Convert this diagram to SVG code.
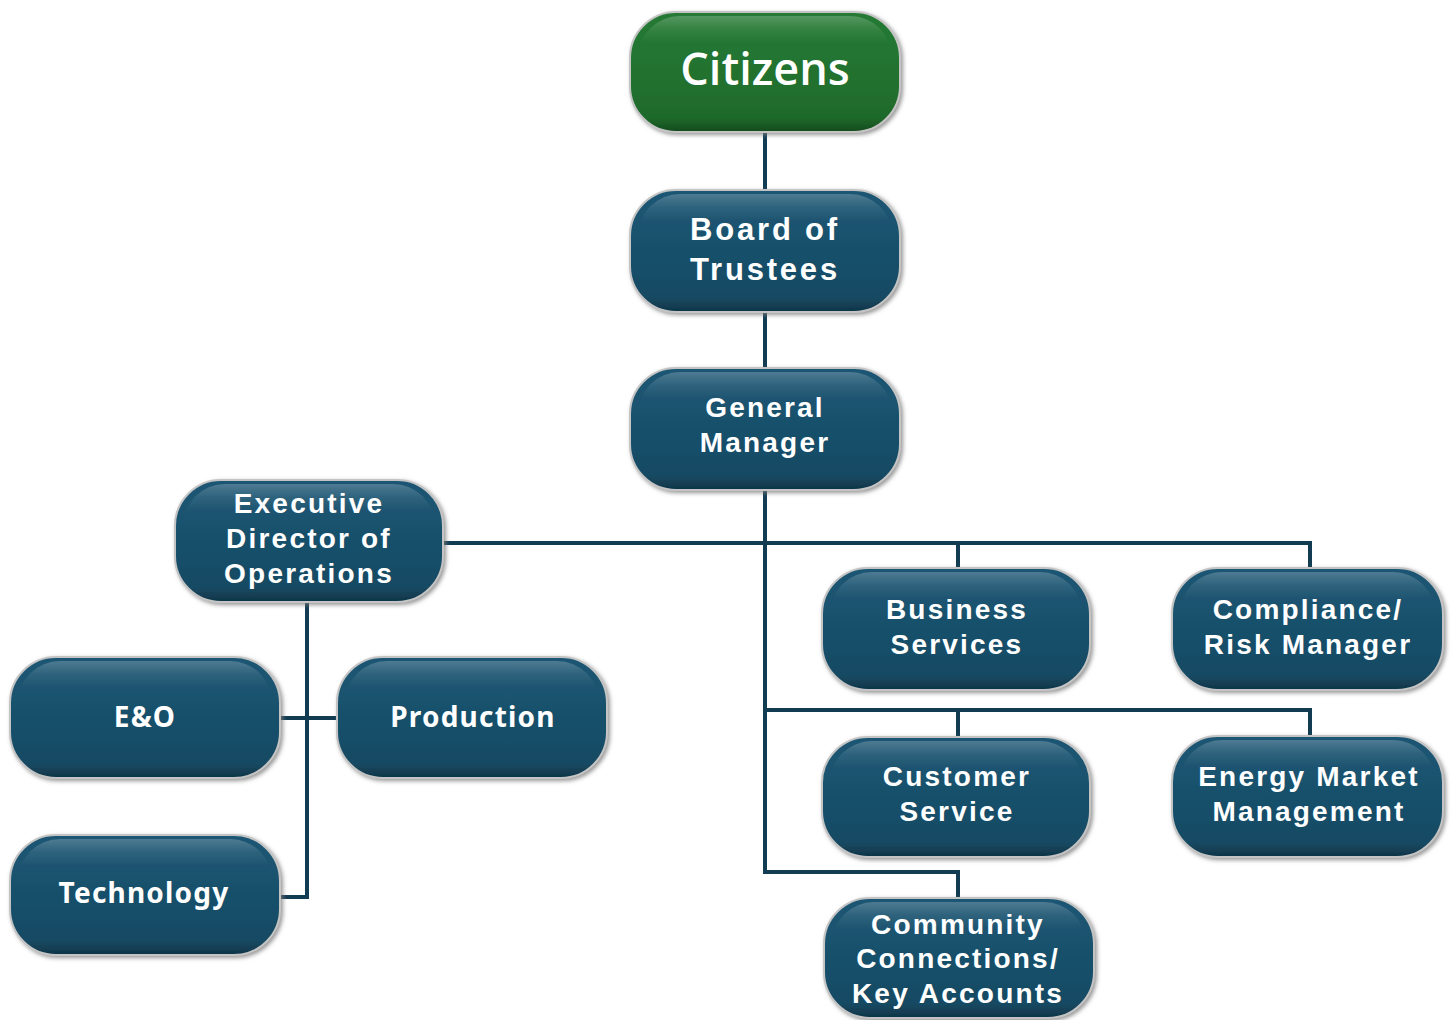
<svg xmlns="http://www.w3.org/2000/svg" width="1452" height="1020" viewBox="0 0 1452 1020">
  <defs>
    <linearGradient id="blueFill" x1="0" y1="0" x2="0" y2="1">
      <stop offset="0" stop-color="#1b5674"/>
      <stop offset="0.5" stop-color="#19506b"/>
      <stop offset="0.88" stop-color="#174a63"/>
      <stop offset="1" stop-color="#0f3446"/>
    </linearGradient>
    <linearGradient id="greenFill" x1="0" y1="0" x2="0" y2="1">
      <stop offset="0" stop-color="#257a34"/>
      <stop offset="0.5" stop-color="#22722f"/>
      <stop offset="0.88" stop-color="#1f6a2c"/>
      <stop offset="1" stop-color="#134a1c"/>
    </linearGradient>
    <linearGradient id="gloss" x1="0" y1="0" x2="0" y2="1">
      <stop offset="0" stop-color="#ffffff" stop-opacity="0.22"/>
      <stop offset="0.12" stop-color="#ffffff" stop-opacity="0.08"/>
      <stop offset="0.25" stop-color="#ffffff" stop-opacity="0"/>
    </linearGradient>
    <filter id="bevel" x="-10%" y="-15%" width="120%" height="135%">
      <feDropShadow dx="2" dy="2" stdDeviation="2" flood-color="#7a7a7a" flood-opacity="0.8"/>
    </filter>
  </defs>
  <style>
    .box { fill: url(#blueFill); stroke: #c4c4c4; stroke-width: 2; filter: url(#bevel); }
    .box.green { fill: url(#greenFill); }
    .shine { fill: url(#gloss); stroke: none; }
    .label { font-family: "Liberation Sans", Arial, sans-serif; font-weight: bold; font-size: 28px; letter-spacing: 2.2px; fill: #ffffff; text-anchor: middle; }
    .label.big { font-size: 31px; letter-spacing: 2.8px; }
    .cond { font-family: "Noto Sans", "DejaVu Sans", sans-serif; font-weight: bold; font-size: 28px; letter-spacing: 1.2px; fill: #ffffff; text-anchor: middle; }
    .title { font-family: "Open Sans", "Noto Sans", sans-serif; font-weight: 600; font-size: 45px; fill: #ffffff; text-anchor: middle; }
    .link { fill: none; stroke: #123c52; stroke-width: 4; }
  </style>

  <rect width="1452" height="1020" fill="#ffffff"/>

  <g id="connectors">
    <path class="link" d="M765 132 V190"/>
    <path class="link" d="M765 312 V368"/>
    <path class="link" d="M765 490 V872 H958 V898"/>
    <path class="link" d="M443 543 H1310 V568"/>
    <path class="link" d="M958 543 V568"/>
    <path class="link" d="M765 710 H1310 V736"/>
    <path class="link" d="M958 710 V737"/>
    <path class="link" d="M307 602 V897 H280"/>
    <path class="link" d="M280 718 H337"/>
  </g>

  <g id="citizens">
    <rect class="box green" x="630" y="12" width="270" height="120" rx="46"/>
    <rect class="shine" x="638" y="16" width="254" height="110" rx="42"/>
    <text class="title" x="765" y="85">Citizens</text>
  </g>

  <g id="board">
    <rect class="box" x="630" y="190" width="270" height="122" rx="46"/>
    <rect class="shine" x="638" y="194" width="254" height="112" rx="42"/>
    <text class="label big" x="765" y="240">Board of</text>
    <text class="label big" x="765" y="280">Trustees</text>
  </g>

  <g id="general-manager">
    <rect class="box" x="630" y="368" width="270" height="122" rx="46"/>
    <rect class="shine" x="638" y="372" width="254" height="112" rx="42"/>
    <text class="label" x="765" y="417">General</text>
    <text class="label" x="765" y="452">Manager</text>
  </g>

  <g id="exec-director">
    <rect class="box" x="175" y="480" width="268" height="122" rx="46"/>
    <rect class="shine" x="183" y="484" width="252" height="112" rx="42"/>
    <text class="label" x="309" y="513">Executive</text>
    <text class="label" x="309" y="548">Director of</text>
    <text class="label" x="309" y="583">Operations</text>
  </g>

  <g id="eo">
    <rect class="box" x="10" y="657" width="270" height="121" rx="46"/>
    <rect class="shine" x="18" y="661" width="254" height="111" rx="42"/>
    <text class="cond" x="145" y="727">E&amp;O</text>
  </g>

  <g id="production">
    <rect class="box" x="337" y="657" width="270" height="121" rx="46"/>
    <rect class="shine" x="345" y="661" width="254" height="111" rx="42"/>
    <text class="cond" x="473" y="727">Production</text>
  </g>

  <g id="technology">
    <rect class="box" x="10" y="835" width="270" height="120" rx="46"/>
    <rect class="shine" x="18" y="839" width="254" height="110" rx="42"/>
    <text class="cond" x="144" y="903">Technology</text>
  </g>

  <g id="business-services">
    <rect class="box" x="822" y="568" width="268" height="122" rx="46"/>
    <rect class="shine" x="830" y="572" width="252" height="112" rx="42"/>
    <text class="label" x="957" y="619">Business</text>
    <text class="label" x="957" y="654">Services</text>
  </g>

  <g id="compliance">
    <rect class="box" x="1172" y="568" width="271" height="122" rx="46"/>
    <rect class="shine" x="1180" y="572" width="255" height="112" rx="42"/>
    <text class="label" x="1308" y="619">Compliance/</text>
    <text class="label" x="1308" y="654">Risk Manager</text>
  </g>

  <g id="customer-service">
    <rect class="box" x="822" y="737" width="268" height="120" rx="46"/>
    <rect class="shine" x="830" y="741" width="252" height="110" rx="42"/>
    <text class="label" x="957" y="786">Customer</text>
    <text class="label" x="957" y="821">Service</text>
  </g>

  <g id="energy-market">
    <rect class="box" x="1172" y="736" width="271" height="121" rx="46"/>
    <rect class="shine" x="1180" y="740" width="255" height="111" rx="42"/>
    <text class="label" x="1309" y="786">Energy Market</text>
    <text class="label" x="1309" y="821">Management</text>
  </g>

  <g id="community">
    <rect class="box" x="824" y="898" width="270" height="120" rx="46"/>
    <rect class="shine" x="832" y="902" width="254" height="110" rx="42"/>
    <text class="label" x="958" y="934">Community</text>
    <text class="label" x="958" y="968">Connections/</text>
    <text class="label" x="958" y="1003">Key Accounts</text>
  </g>
</svg>
